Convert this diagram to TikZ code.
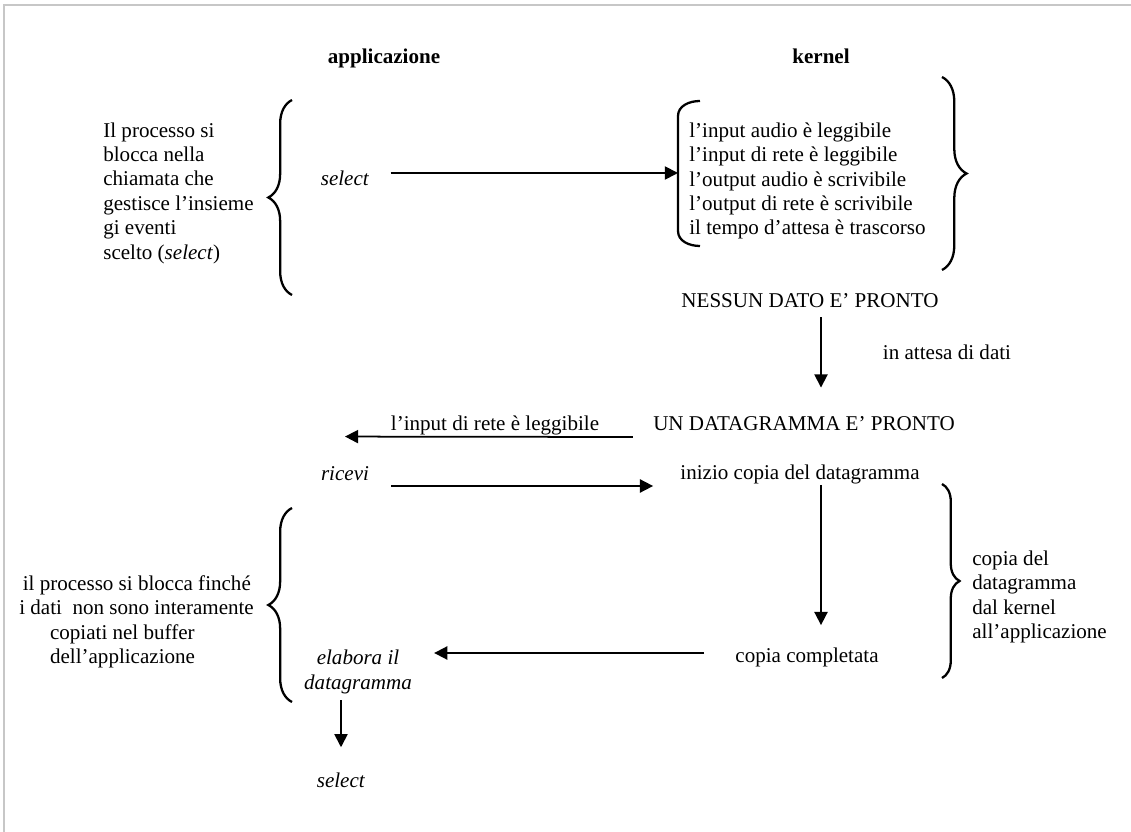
\documentclass[tikz,border=0pt]{standalone}
\usepackage{fontspec}
\setmainfont{Liberation Serif}
\usetikzlibrary{arrows.meta,decorations.pathreplacing}

\begin{document}
\begin{tikzpicture}[x=0.57pt,y=-0.57pt,
    txt/.style={inner sep=0pt, font=\fontsize{12}{13.9}\selectfont},
    arr/.style={line width=1pt, -{Triangle[length=7.5pt,width=7.5pt]}},
    brc/.style={line width=1.3pt, decorate, decoration={brace, amplitude=#1}},
    brc/.default=13.5pt]
    \useasboundingbox (0,0) rectangle (1131,832);
    \draw[black!22, line width=1.2pt] (4,832) -- (4,5) -- (1131,5);

    % titoli delle colonne
    \node[txt, anchor=base] (app) at (384,64) {\bfseries applicazione};
    \node[txt, anchor=base] (ker) at (821,64) {\bfseries kernel};

    % lato applicazione
    \node[txt, anchor=west, align=left] (blocco) at (103,193) {Il processo si\\blocca nella\\chiamata che\\gestisce l'insieme\\gi eventi\\scelto (\textit{select})};
    \node[txt] (sel) at (345,178) {\textit{select}};
    \node[txt] (leggibile) at (495,425) {l'input di rete è leggibile};
    \node[txt] (ricevi) at (345,474) {\textit{ricevi}};
    \node[txt, anchor=west, align=left] (attende) at (19,622) {\hspace*{2pt}il processo si blocca finché\\i dati\ \ non sono interamente\\\hspace*{17.5pt}copiati nel buffer\\\hspace*{17.5pt}dell'applicazione};
    \node[txt, align=center] (elabora) at (358,672) {\textit{elabora il}\\\textit{datagramma}};
    \node[txt] (sel2) at (341,780) {\textit{select}};

    % lato kernel
    \node[txt, anchor=west, align=left] (eventi) at (689,181) {l'input audio è leggibile\\l'input di rete è leggibile\\l'output audio è scrivibile\\l'output di rete è scrivibile\\il tempo d'attesa è trascorso};
    \node[txt] (nessun) at (810,301) {NESSUN DATO E' PRONTO};
    \node[txt] (attesa) at (947,352) {in attesa di dati};
    \node[txt] (pronto) at (804,424) {UN DATAGRAMMA E' PRONTO};
    \node[txt] (inizio) at (800,474) {inizio copia del datagramma};
    \node[txt] (completata) at (807,657) {copia completata};
    \node[txt, anchor=west, align=left] (copia) at (972,597) {copia del\\datagramma\\dal kernel\\all'applicazione};

    % parentesi
    \draw[brc] (292,295) -- (292,100);
    \draw[brc=14pt] (942,77) -- (942,270);
    \draw[brc=10pt] (942,484) -- (942,678);
    \draw[brc] (292,702) -- (292,508);
    \draw[line width=1.3pt] (700,101) to[out=180,in=90] (678,116) -- (678,231) to[out=-90,in=180] (700,246);
    \coordinate (parentesi) at (678,173);

    % frecce
    \draw[arr] ([shift={(21,-5)}]sel.east) -- (parentesi);
    \draw[arr] ([shift={(11,9)}]nessun.south) -- ([shift={(17,-29)}]pronto.north);
    \draw[arr] ([shift={(-20,13)}]pronto.west) -- ([shift={(0,-30)}]ricevi.north);
    \draw[arr] ([shift={(22,12)}]ricevi.east) -- ([shift={(-27,12)}]inizio.west);
    \draw[arr] ([shift={(21,1)}]inizio.south) -- ([shift={(14,-22)}]completata.north);
    \draw[arr] ([shift={(-31,-4)}]completata.west) -- ([shift={(22,-19)}]elabora.east);
    \draw[arr] ([shift={(-17,6)}]elabora.south) -- ([shift={(0,-25)}]sel2.north);
\end{tikzpicture}
\end{document}
